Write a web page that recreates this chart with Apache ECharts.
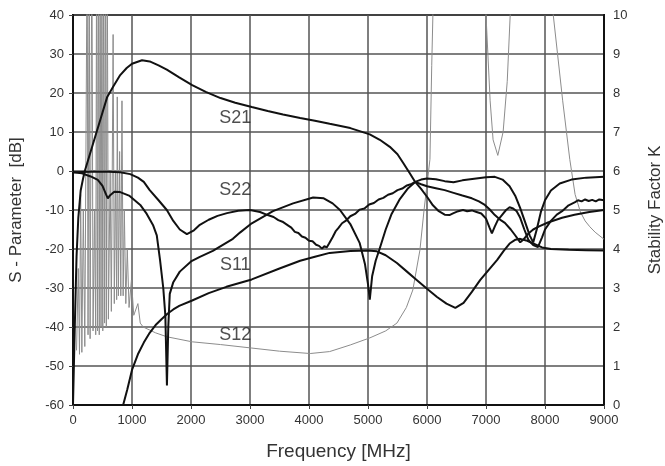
<!DOCTYPE html>
<html>
<head>
<meta charset="utf-8">
<script src="https://cdn.jsdelivr.net/npm/echarts@6/dist/echarts.min.js"></script>
<style>
html,body{margin:0;padding:0;background:#fff;}
#chart{width:665px;height:466px;}
</style>
</head>
<body>
<div id="chart"></div>
<script>
// ---- axis ticks ----
var xTicks = [0,1000,2000,3000,4000,5000,6000,7000,8000,9000];
var dbTicks = [-60,-50,-40,-30,-20,-10,0,10,20,30,40];
var kTicks = [0,1,2,3,4,5,6,7,8,9,10];

// ---- S21 [MHz, dB] ----
var s21 = [[0,-60],[30,-40],[60,-22],[90,-12],[130,-5],[170,-2],[200,0],[300,5],[400,10],[500,15],[580,19],[680,21.6],[800,24.6],[910,26.4],[1000,27.5],[1170,28.4],[1300,28.1],[1450,27.1],[1590,26],[1800,24],[2020,22],[2250,20.3],[2500,18.7],[2750,17.5],[3030,16.4],[3300,15.4],[3560,14.5],[3850,13.6],[4100,12.9],[4350,12.1],[4700,11],[5030,9.4],[5200,8],[5370,6.2],[5500,4.3],[5600,2],[5700,-0.4],[5800,-2.8],[5900,-3.4],[6000,-3.9],[6150,-4.4],[6300,-4.9],[6450,-5.6],[6600,-6.3],[6760,-7],[6880,-7.8],[6980,-8.7],[7060,-9.8],[7150,-11.3],[7250,-12.6],[7320,-13.3],[7420,-15],[7500,-16.6],[7580,-18.3],[7640,-17.5],[7720,-16],[7800,-15],[7900,-14.2],[8050,-13.2],[8290,-12],[8500,-11.2],[8750,-10.5],[9000,-10]];

// ---- S11 [MHz, dB] ----
var s11 = [[0,-0.3],[150,-0.6],[300,-1.4],[420,-2.3],[500,-3.8],[560,-6],[590,-7],[630,-6.2],[700,-5.3],[800,-5.4],[950,-6.3],[1140,-8.7],[1250,-11],[1360,-14],[1420,-16.5],[1475,-22.8],[1530,-30],[1565,-37],[1592,-55],[1615,-40],[1640,-31.5],[1700,-28.5],[1810,-25.8],[2000,-23.2],[2150,-22],[2370,-20.5],[2710,-17.4],[2830,-15.8],[3030,-13.4],[3390,-10.3],[3730,-8.3],[4070,-6.8],[4250,-7],[4400,-8.3],[4525,-10],[4700,-13.6],[4860,-18.5],[4950,-24],[5000,-29],[5030,-33],[5070,-27],[5130,-23],[5200,-19.8],[5300,-15],[5400,-11],[5540,-7.2],[5680,-4.4],[5800,-2.8],[5900,-2.2],[6000,-1.9],[6150,-2.1],[6300,-2.6],[6450,-2.9],[6600,-2.4],[6800,-2],[7000,-1.6],[7150,-1.5],[7280,-2.2],[7400,-3.9],[7500,-6.5],[7580,-9.5],[7660,-13],[7740,-16.5],[7800,-18.3],[7860,-15],[7930,-10.5],[8000,-7.5],[8100,-5],[8250,-3.2],[8450,-2.2],[8700,-1.7],[9000,-1.5]];

// ---- S22 [MHz, dB] ----
var s22 = [[0,-0.3],[300,-0.2],[600,-0.2],[800,-0.3],[970,-0.8],[1100,-1.7],[1200,-2.8],[1300,-4.9],[1450,-7.5],[1590,-10],[1700,-12.8],[1810,-15],[1930,-16.2],[2050,-15.2],[2150,-13.8],[2300,-12.5],[2450,-11.5],[2610,-10.8],[2800,-10.2],[3000,-10],[3170,-10.5],[3300,-11.3],[3400,-11.8],[3480,-12.6],[3550,-13],[3630,-13.8],[3700,-14.5],[3760,-15.6],[3820,-15.9],[3880,-16.8],[3940,-17.1],[4000,-17.9],[4060,-18],[4120,-18.9],[4170,-19.2],[4220,-19.9],[4260,-19.3],[4300,-19.6],[4340,-18.6],[4400,-17],[4450,-15.5],[4500,-14.6],[4560,-13.4],[4620,-12.8],[4700,-11.6],[4780,-11],[4860,-9.9],[4940,-9.6],[5020,-8.6],[5100,-8.2],[5180,-7.3],[5260,-6.9],[5340,-6.1],[5420,-5.7],[5500,-4.9],[5580,-4.5],[5660,-3.7],[5740,-3.3],[5800,-2.8],[5900,-4.6],[6000,-6.6],[6100,-8.8],[6200,-10.3],[6300,-11.2],[6380,-11.3],[6450,-10.8],[6530,-10.3],[6610,-10],[6680,-10.3],[6760,-10.1],[6840,-10.5],[6920,-10.9],[7000,-12.2],[7060,-14.5],[7100,-16],[7150,-14.2],[7200,-12.6],[7270,-11.3],[7340,-10],[7400,-9.3],[7460,-9.6],[7520,-10.3],[7580,-12],[7650,-15],[7720,-17.7],[7800,-19],[7880,-19.5],[7950,-17],[8000,-15],[8100,-12.8],[8200,-11.2],[8290,-10.3],[8400,-8.8],[8510,-8],[8560,-7.5],[8620,-7.8],[8680,-7.3],[8740,-7.7],[8800,-7.4],[8860,-7.8],[8920,-7.3],[9000,-7.5]];

// ---- S12 [MHz, dB] ----
var s12 = [[850,-60],[920,-56],[1000,-51],[1100,-47],[1200,-44],[1300,-41.5],[1400,-39.5],[1500,-38],[1600,-36.6],[1700,-35.5],[1800,-34.6],[2020,-33.2],[2300,-31.3],[2600,-29.7],[3030,-27.8],[3500,-25],[3850,-23],[4100,-22],[4350,-21],[4700,-20.5],[5000,-20.4],[5150,-20.6],[5300,-21.6],[5490,-23.6],[5660,-25.8],[5830,-28],[6000,-30.2],[6170,-32.3],[6330,-34],[6480,-35.1],[6620,-33.8],[6760,-31],[6900,-28],[7050,-25.3],[7190,-22.8],[7300,-20.5],[7400,-18.6],[7500,-17.6],[7580,-17.4],[7680,-17.8],[7800,-18.6],[7950,-19.6],[8100,-20],[8400,-20.2],[8700,-20.3],[9000,-20.4]];

// ---- Stability factor K [MHz, K] ----
var kFactor = [[60,1.4],[90,3.5],[110,1.3],[130,5.4],[150,1.35],[175,5],[200,1.5],[240,12],[255,1.8],[275,12],[290,1.7],[320,12],[340,1.9],[365,5],[385,1.8],[400,12],[415,1.9],[430,12],[445,1.8],[460,12],[475,2.0],[490,12],[505,1.9],[520,12],[535,2.1],[550,12],[565,2.0],[580,12],[600,2.2],[630,6],[650,2.4],[680,9.5],[700,2.6],[720,6],[740,2.7],[750,7.9],[770,2.8],[790,6.5],[810,2.8],[830,7.8],[850,2.8],[870,5],[895,2.6],[920,4],[950,2.5],[990,3.2],[1030,2.3],[1100,2.6],[1140,2.1],[1190,2.0],[1400,1.85],[1590,1.75],[2020,1.62],[2500,1.55],[3030,1.46],[3500,1.38],[4020,1.32],[4350,1.37],[4700,1.54],[5030,1.72],[5300,1.9],[5490,2.1],[5650,2.5],[5760,2.95],[5880,3.97],[5950,5],[6050,6.3],[6080,8.7],[6100,10],[6130,12],[6950,12],[7000,10],[7070,7.8],[7120,6.8],[7200,6.4],[7290,7],[7360,8.3],[7410,10],[7450,12],[8100,12],[8140,10],[8300,7.8],[8420,6.3],[8510,5.4],[8540,5.25],[8600,4.95],[8680,4.72],[8760,4.57],[8850,4.43],[9000,4.25]];

// ---- curve labels ----
var labelNames = ['S21','S22','S11','S12'];
var labelFreq = [2750,2750,2750,2750];
var labelDb = [13.6,-4.9,-24.1,-42];

var FONT = 'Liberation Sans, Arial, sans-serif';
var chart = echarts.init(document.getElementById('chart'), null, {renderer:'canvas'});

function sLine(name, data){
  return {name:name, type:'line', data:data, showSymbol:false, symbol:'none',
    lineStyle:{color:'#111', width:2}, z:5, clip:true, animation:false};
}
function plain(v){ return String(v); }

var labelData = labelNames.map(function(n,i){ return {name:n, value:[labelFreq[i], labelDb[i]]}; });

chart.setOption({
  backgroundColor:'#fff',
  animation:false,
  grid:{left:73, right:61, top:15, bottom:61, containLabel:false, outerBoundsMode:'none',
    show:true, borderColor:'#111', borderWidth:2, backgroundColor:'transparent'},
  xAxis:{type:'value', min:xTicks[0], max:xTicks[xTicks.length-1], interval:1000,
    name:'Frequency [MHz]', nameLocation:'middle', nameGap:37,
    nameTextStyle:{fontFamily:FONT, fontSize:19, color:'#333'},
    axisLine:{show:true, onZero:false, lineStyle:{color:'#111', width:2}},
    axisTick:{show:true, inside:false, length:4, lineStyle:{color:'#444'}},
    axisLabel:{fontFamily:FONT, fontSize:13, color:'#333', margin:9, formatter:plain},
    splitLine:{show:true, lineStyle:{color:'#555', width:1.5}}},
  yAxis:[{type:'value', min:dbTicks[0], max:dbTicks[dbTicks.length-1], interval:10, position:'left',
    name:'S - Parameter  [dB]', nameLocation:'middle', nameGap:48,
    nameTextStyle:{fontFamily:FONT, fontSize:17, color:'#333'},
    axisLine:{show:true, onZero:false, lineStyle:{color:'#111', width:2}},
    axisTick:{show:true, length:4, lineStyle:{color:'#444'}},
    axisLabel:{fontFamily:FONT, fontSize:13, color:'#333', margin:9, formatter:plain},
    splitLine:{show:true, lineStyle:{color:'#555', width:1.5}}},
   {type:'value', min:kTicks[0], max:kTicks[kTicks.length-1], interval:1, position:'right',
    name:'Stability Factor K', nameLocation:'middle', nameGap:43, nameRotate:90,
    nameTextStyle:{fontFamily:FONT, fontSize:17, color:'#333'},
    axisLine:{show:true, onZero:false, lineStyle:{color:'#111', width:2}},
    axisTick:{show:false},
    axisLabel:{fontFamily:FONT, fontSize:13, color:'#333', margin:9, formatter:plain},
    splitLine:{show:false}}],
  series:[
    {name:'K', type:'line', yAxisIndex:1, data:kFactor, showSymbol:false, symbol:'none',
     lineStyle:{color:'#8c8c8c', width:1}, z:3, clip:true},
    sLine('S21', s21), sLine('S11', s11), sLine('S22', s22), sLine('S12', s12),
    {name:'labels', type:'scatter', data:labelData, symbolSize:0, z:6,
     label:{show:true, position:'inside', formatter:'{b}', fontFamily:FONT, fontSize:18, color:'#222'}}
  ]
});
</script>
</body>
</html>
